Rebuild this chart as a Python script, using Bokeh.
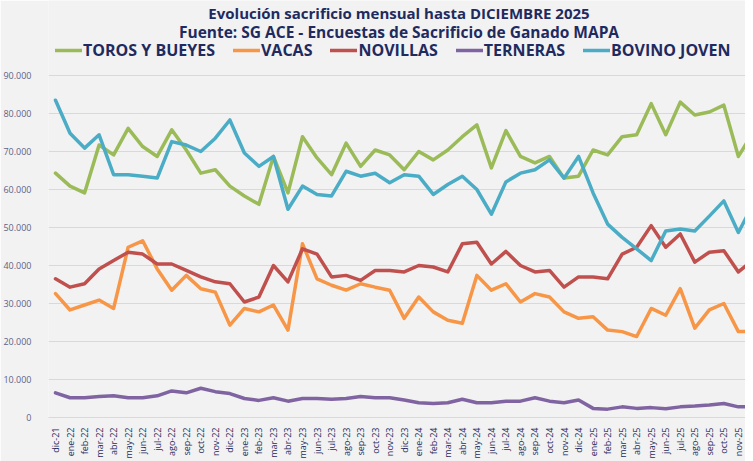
from bokeh.plotting import figure
from bokeh.models import Range1d, FixedTicker, Label, Legend, LegendItem
from bokeh.embed import file_html
from bokeh.resources import INLINE

# ---------------- data (thousands of head) ----------------
months = ["dic-21",
          "ene-22", "feb-22", "mar-22", "abr-22", "may-22", "jun-22", "jul-22", "ago-22", "sep-22", "oct-22", "nov-22", "dic-22",
          "ene-23", "feb-23", "mar-23", "abr-23", "may-23", "jun-23", "jul-23", "ago-23", "sep-23", "oct-23", "nov-23", "dic-23",
          "ene-24", "feb-24", "mar-24", "abr-24", "may-24", "jun-24", "jul-24", "ago-24", "sep-24", "oct-24", "nov-24", "dic-24",
          "ene-25", "feb-25", "mar-25", "abr-25", "may-25", "jun-25", "jul-25", "ago-25", "sep-25", "oct-25", "nov-25", "dic-25"]

toros_y_bueyes = [64.3, 60.9, 59.1, 71.7, 69.1, 76.1, 71.3, 68.7, 75.7, 70.4, 64.3, 65.2, 60.9,
                  58.3, 56.1, 68.7, 59.1, 73.9, 68.3, 63.9, 72.2, 66.1, 70.4, 69.1, 65.2,
                  70.0, 67.8, 70.4, 73.9, 77.0, 65.7, 75.5, 68.7, 67.0, 68.7, 63.0, 63.5,
                  70.4, 69.1, 73.9, 74.4, 82.6, 74.4, 83.0, 79.6, 80.4, 82.2, 68.7, 75.0]

vacas = [32.6, 28.3, 29.6, 30.9, 28.7, 44.8, 46.5, 39.1, 33.5, 37.4, 33.9, 33.0, 24.3,
         28.7, 27.8, 29.6, 23.0, 45.7, 36.5, 34.8, 33.5, 35.2, 34.3, 33.5, 26.1,
         31.7, 27.8, 25.6, 24.8, 37.4, 33.5, 35.2, 30.4, 32.6, 31.7, 27.8, 26.1,
         26.5, 23.0, 22.6, 21.3, 28.7, 26.9, 33.9, 23.5, 28.3, 30.0, 22.6, 22.7]

novillas = [36.5, 34.3, 35.2, 39.1, 41.3, 43.5, 43.0, 40.4, 40.4, 38.7, 37.0, 35.7, 35.2,
            30.4, 31.7, 40.0, 35.7, 44.4, 43.0, 37.0, 37.4, 36.1, 38.7, 38.7, 38.3,
            40.0, 39.6, 38.3, 45.7, 46.1, 40.4, 43.7, 40.0, 38.3, 38.7, 34.3, 37.0,
            37.0, 36.5, 43.0, 44.8, 50.5, 44.8, 48.3, 40.9, 43.5, 43.9, 38.3, 41.5]

terneras = [6.5, 5.2, 5.2, 5.5, 5.7, 5.2, 5.2, 5.7, 7.0, 6.5, 7.7, 6.8, 6.3,
            5.0, 4.5, 5.2, 4.3, 5.0, 5.0, 4.8, 5.0, 5.5, 5.2, 5.2, 4.6,
            3.9, 3.7, 3.9, 4.8, 3.9, 3.9, 4.3, 4.3, 5.2, 4.3, 3.9, 4.6,
            2.4, 2.2, 2.8, 2.4, 2.6, 2.3, 2.8, 3.0, 3.3, 3.7, 2.8, 2.8]

bovino_joven = [83.5, 74.8, 70.9, 74.4, 63.9, 63.9, 63.5, 63.0, 72.6, 71.7, 70.0, 73.5, 78.3,
                69.6, 66.1, 68.7, 54.8, 60.9, 58.7, 58.3, 64.8, 63.5, 64.3, 61.8, 63.9,
                63.5, 58.7, 61.3, 63.5, 60.0, 53.5, 62.0, 64.3, 65.2, 67.8, 63.0, 68.7,
                59.1, 50.9, 47.4, 44.4, 41.3, 49.1, 49.6, 49.1, 53.0, 57.0, 48.7, 56.0]

series_names = ["TOROS Y BUEYES", "VACAS", "NOVILLAS", "TERNERAS", "BOVINO JOVEN"]
series_colors = ["#9BBB59", "#F79646", "#C0504D", "#8064A2", "#4BACC6"]

y_ticks = [0, 10, 20, 30, 40, 50, 60, 70, 80, 90]
y_tick_labels = ["0", "10.000", "20.000", "30.000", "40.000", "50.000",
                 "60.000", "70.000", "80.000", "90.000"]

title_1 = "Evolución sacrificio mensual hasta DICIEMBRE 2025"
title_2 = "Fuente: SG ACE - Encuestas de Sacrificio de Ganado MAPA"

# ---------------- figure ----------------
NAVY = "#1F2A5E"
BG = "#F2F2F2"
FONT = "Open Sans"

x = list(range(len(months)))

# the frame reaches the top of the plot; headings live in the empty space above 90.000
p = figure(frame_width=697, frame_height=417, output_backend="svg", toolbar_location=None,
           x_range=Range1d(-0.482, 47.49), y_range=Range1d(0, 109.74),
           min_border_left=40, min_border_right=0, min_border_top=0, min_border_bottom=36)
p.background_fill_color = BG
p.border_fill_color = BG
p.outline_line_color = None

renderers = []
for vals, col in zip([toros_y_bueyes, vacas, novillas, terneras, bovino_joven], series_colors):
    r = p.line(x, vals, line_color=col, line_width=3.5, line_join="round", line_cap="round")
    renderers.append(r)

# axes
p.xaxis.ticker = FixedTicker(ticks=x)
p.xaxis.major_label_overrides = {i: m for i, m in enumerate(months)}
p.xaxis.major_label_orientation = 1.5708
p.xaxis.major_label_text_font = FONT
p.xaxis.major_label_text_font_size = "9px"
p.xaxis.major_label_text_color = NAVY
p.xaxis.major_tick_line_color = None
p.xaxis.minor_tick_line_color = None
p.xaxis.axis_line_color = "#D9D9D9"
p.xaxis.axis_line_width = 1
p.xaxis.major_label_standoff = 4

p.yaxis.ticker = FixedTicker(ticks=y_ticks)
p.yaxis.major_label_overrides = {t: l for t, l in zip(y_ticks, y_tick_labels)}
p.yaxis.major_label_text_font = FONT
p.yaxis.major_label_text_font_size = "9px"
p.yaxis.major_label_text_color = "#5B6389"
p.yaxis.major_tick_line_color = None
p.yaxis.minor_tick_line_color = None
p.yaxis.axis_line_color = None
p.yaxis.major_label_standoff = 11

p.xgrid.grid_line_color = None
p.ygrid.grid_line_color = "#D9D9D9"
p.ygrid.grid_line_width = 1

# titles
for txt, yy, fs in [(title_1, 405, "15px"), (title_2, 386, "15.5px")]:
    p.add_layout(Label(x=350.5, y=yy, x_units="screen", y_units="screen", text=txt,
                       text_align="center", text_baseline="middle",
                       text_font=FONT, text_font_size=fs, text_font_style="bold",
                       text_color=NAVY))

# legend
items = [LegendItem(label=n, renderers=[r]) for n, r in zip(series_names, renderers)]
legend = Legend(items=items, orientation="horizontal", location=(7, 356),
                spacing=18, glyph_width=27, glyph_height=20, label_height=20,
                label_standoff=1, padding=0, margin=0,
                background_fill_alpha=0, border_line_alpha=0,
                label_text_font=FONT, label_text_font_size="16px",
                label_text_font_style="bold", label_text_color=NAVY)
p.add_layout(legend)

open("out.html", "w").write(file_html(p, INLINE))
